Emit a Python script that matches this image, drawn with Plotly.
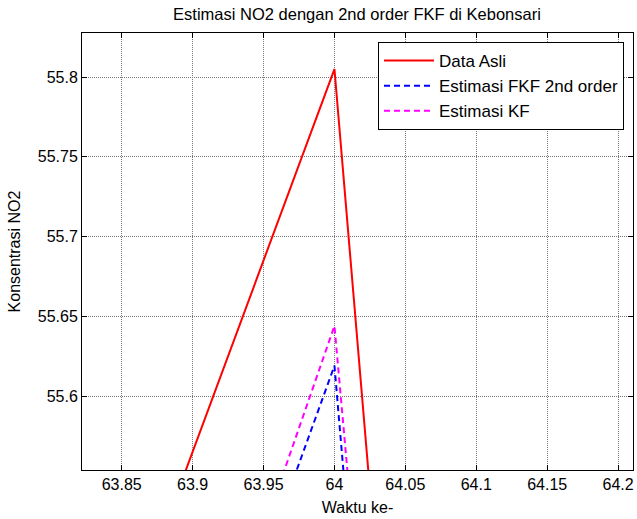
import plotly.graph_objects as go

# Data (the view is zoomed around t = 64)
waktu = [63, 64, 65]
data_asli = [53.405, 55.805, 45.26]
estimasi_fkf = [53.16, 55.619, 45.2]
estimasi_kf = [53.08, 55.644, 45.7]

x_ticks = [63.85, 63.9, 63.95, 64, 64.05, 64.1, 64.15, 64.2]
x_ticklabels = ["63.85", "63.9", "63.95", "64", "64.05", "64.1", "64.15", "64.2"]
y_ticks = [55.6, 55.65, 55.7, 55.75, 55.8]
y_ticklabels = ["55.6", "55.65", "55.7", "55.75", "55.8"]

FONT = "Liberation Sans, Arial, Helvetica, sans-serif"
FS = 16

fig = go.Figure()
fig.add_trace(go.Scatter(x=waktu, y=data_asli, mode="lines", name="Data Asli",
                         line=dict(color="#ff0000", width=2)))
fig.add_trace(go.Scatter(x=waktu, y=estimasi_fkf, mode="lines", name="Estimasi FKF 2nd order",
                         line=dict(color="#0000ff", width=2, dash="6px,4px")))
fig.add_trace(go.Scatter(x=waktu, y=estimasi_kf, mode="lines", name="Estimasi KF",
                         line=dict(color="#ff00ff", width=2, dash="6px,4px")))

axis_common = dict(
    showline=True, linecolor="black", linewidth=1, mirror="ticks",
    ticks="inside", ticklen=5, tickcolor="black",
    showgrid=True, gridcolor="#777777", griddash="1px,1px", gridwidth=1,
    zeroline=False, automargin=False,
    tickfont=dict(family=FONT, size=FS, color="black"),
)

fig.update_layout(
    width=637, height=519,
    margin=dict(l=82, r=4, t=33, b=49),
    paper_bgcolor="white", plot_bgcolor="white",
    font=dict(family=FONT, size=FS, color="black"),
    title=dict(text="Estimasi NO2 dengan 2nd order FKF di Kebonsari",
               x=(172 + 542) / 2 / 637, xref="container", xanchor="center",
               y=1 - 14 / 519, yref="container", yanchor="middle",
               font=dict(family=FONT, size=16.5, color="black")),
    xaxis=dict(range=[63.822, 64.2105], tickvals=x_ticks, ticktext=x_ticklabels,
               title=dict(text="Waktu ke-", standoff=9, font=dict(family=FONT, size=FS)),
               **axis_common),
    yaxis=dict(range=[55.5536, 55.8276], tickvals=y_ticks, ticktext=y_ticklabels,
               title=dict(text="Konsentrasi NO2", standoff=13, font=dict(family=FONT, size=FS)),
               **axis_common),
    showlegend=True,
    legend=dict(x=(378 - 82) / 551, y=(470 - 42) / 437, xanchor="left", yanchor="top",
                bgcolor="white", bordercolor="black", borderwidth=1,
                font=dict(family=FONT, size=17, color="black"),
                itemwidth=50, tracegroupgap=0),
)

fig.write_html(
    "out.html",
    config={"displayModeBar": False},
    post_script="document.body.style.margin='0';document.body.style.overflow='hidden';",
)
